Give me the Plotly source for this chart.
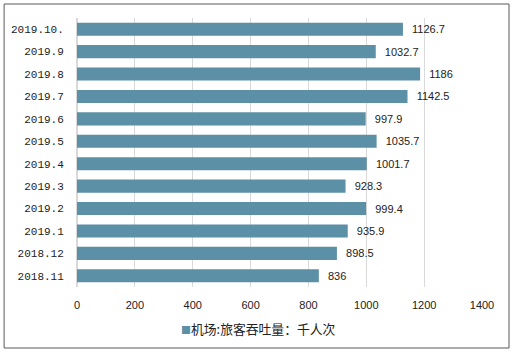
import plotly.graph_objects as go

categories = ["2018.11", "2018.12", "2019.1", "2019.2", "2019.3", "2019.4",
              "2019.5", "2019.6", "2019.7", "2019.8", "2019.9", "2019.10."]
values = [836, 898.5, 935.9, 999.4, 928.3, 1001.7, 1035.7, 997.9, 1142.5, 1186, 1032.7, 1126.7]
value_labels = ["836", "898.5", "935.9", "999.4", "928.3", "1001.7", "1035.7", "997.9",
                "1142.5", "1186", "1032.7", "1126.7"]
series_name = "机场:旅客吞吐量：千人次"
x_ticks = [0, 200, 400, 600, 800, 1000, 1200, 1400]
bar_color = "#5B90A7"

fig = go.Figure()
fig.add_trace(go.Bar(
    y=categories, x=values, orientation="h", name=series_name,
    marker=dict(color=bar_color, line=dict(width=0)),
    text=["\u00a0\u00a0" + t for t in value_labels], textposition="outside", cliponaxis=False,
    textfont=dict(family="Liberation Sans", size=11, color="#222222"),
    showlegend=False,
))

fig.update_layout(
    width=514, height=354,
    margin=dict(l=77, r=32, t=18, b=67),
    paper_bgcolor="white", plot_bgcolor="white",
    bargap=0.42,
    font=dict(family="Noto Sans CJK SC", color="#222222"),
    xaxis=dict(range=[0, 1400], tickvals=x_ticks, showgrid=True, gridcolor="#D9D9D9",
               gridwidth=1, zeroline=True, zerolinecolor="#D9D9D9", showline=False,
               ticks="outside", ticklen=8, tickcolor="rgba(0,0,0,0)",
               tickfont=dict(family="Liberation Sans", size=11, color="#222222")),
    yaxis=dict(categoryorder="array", categoryarray=categories, showgrid=False,
               ticks="outside", ticklen=10, tickcolor="rgba(0,0,0,0)",
               tickfont=dict(family="Liberation Mono", size=11, color="#222222")),
    annotations=[dict(
        xref="paper", yref="paper", x=0.447, y=-0.156, xanchor="center", yanchor="middle",
        showarrow=False,
        text=f'<span style="color:{bar_color};font-size:10px">■</span>' + series_name,
        font=dict(family="Noto Sans CJK SC", size=12.8, color="#222222"))],
    shapes=[dict(type="rect", xref="paper", yref="paper",
                 x0=-0.180, x1=1.0667, y0=-0.2268, y1=1.052,
                 line=dict(color="#595959", width=1), fillcolor="rgba(0,0,0,0)")],
)

fig.write_html("out.html")
